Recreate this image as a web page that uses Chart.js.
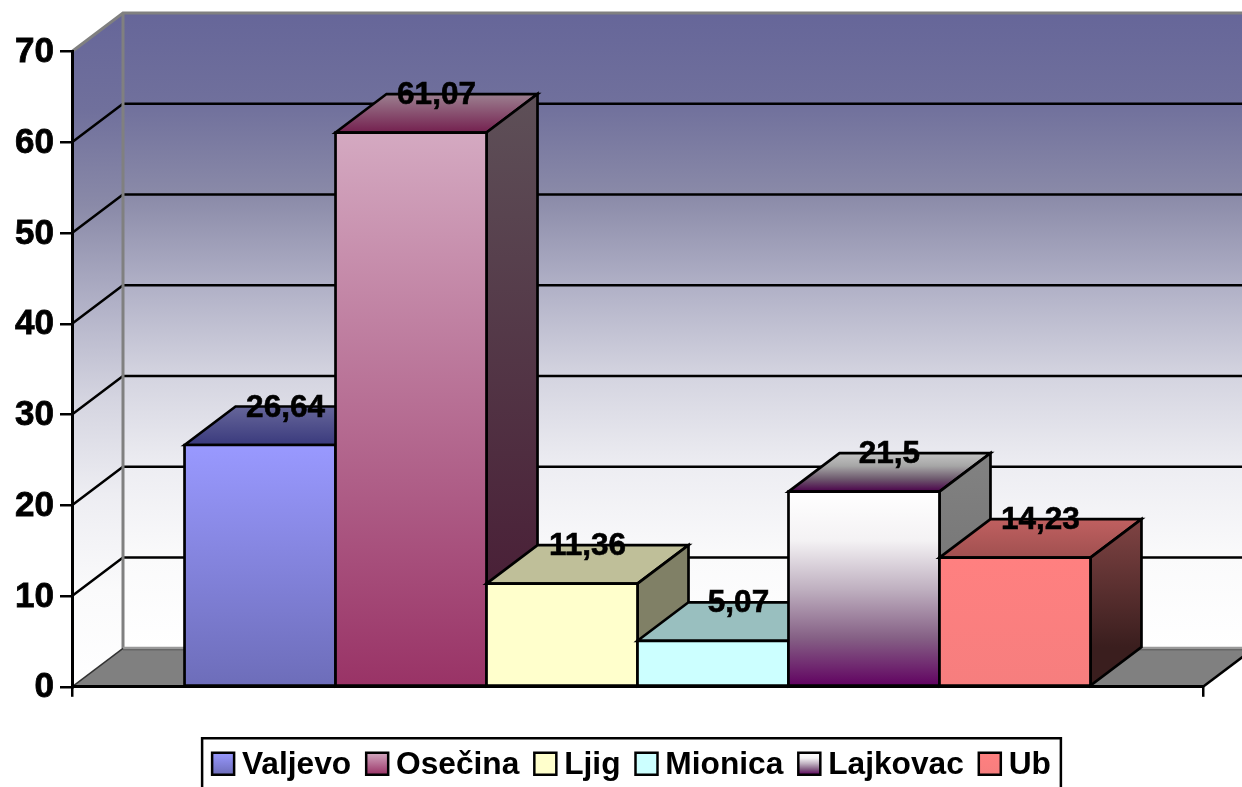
<!DOCTYPE html>
<html>
<head>
<meta charset="utf-8">
<style>html,body{margin:0;padding:0;background:#fff;overflow:hidden}canvas{display:block}</style>
<script src="https://cdn.jsdelivr.net/npm/chart.js@4"></script>
</head>
<body>
<canvas id="c" width="1242" height="787"></canvas>
<script>
const seriesNames = ['Valjevo', 'Osečina', 'Ljig', 'Mionica', 'Lajkovac', 'Ub'];
const seriesValues = [26.64, 61.07, 11.36, 5.07, 21.5, 14.23];
const categories = [''];
const yTicks = [0, 10, 20, 30, 40, 50, 60, 70];

const frontColors = [['#9999ff', '#6d6db9'], ['#d4a9c1', '#993366'], ['#ffffcc', '#ffffcc'], ['#ccffff', '#ccffff'], ['#ffffff', '#f4f2f4', '#bfb0c0', '#856085', '#600060'], ['#ff8080', '#f67e7e']];
const topColors = [['#66669a', '#3a3a7d'], ['#9c8090', '#74204f'], ['#bfbf99', '#bfbf99'], ['#99bfbf', '#99bfbf'], ['#c4c4c4', '#a6a6a6', '#6e5a6e', '#4a004a'], ['#c06060', '#a05050']];
const sideColors = [['#4c4c80', '#36365c'], ['#5e5058', '#471a33'], ['#808066', '#808066'], ['#668080', '#668080'], ['#828282', '#707070'], ['#804444', '#3a1e1e']];
const wallColors = ['#666699', '#70709c', '#8a8aa8', '#b0b0c6', '#d4d4e0', '#ededf2', '#fafafb', '#ffffff'];

const DX = 51, DY = 38.5;
const FONT = 'Liberation Sans';
const LW = 2.7;

function poly(ctx, pts, fill, stroke, lw) {
  ctx.beginPath();
  pts.forEach((p, i) => i ? ctx.lineTo(p[0], p[1]) : ctx.moveTo(p[0], p[1]));
  ctx.closePath();
  if (fill) { ctx.fillStyle = fill; ctx.fill(); }
  if (stroke) { ctx.strokeStyle = stroke; ctx.lineWidth = lw; ctx.lineJoin = 'miter'; ctx.stroke(); }
}
function vGrad(ctx, y0, y1, colors) {
  const g = ctx.createLinearGradient(0, y0, 0, y1);
  colors.forEach((c, i) => g.addColorStop(i / (colors.length - 1), c));
  return g;
}

const scene3d = {
  id: 'scene3d',
  afterLayout(chart) {
    const lg = chart.legend;
    lg.left += 30; lg.right += 30;
  },
  beforeDraw(chart) {
    const ctx = chart.ctx, a = chart.chartArea, y = chart.scales.y;
    const L = a.left, R = a.right, T = a.top, B = a.bottom;
    ctx.save();
    // back wall and side wall
    poly(ctx, [[L + DX, T - DY], [R + DX, T - DY], [R + DX, B - DY], [L + DX, B - DY]], vGrad(ctx, T - DY, B - DY, wallColors));
    poly(ctx, [[L, T], [L + DX, T - DY], [L + DX, B - DY], [L, B]], vGrad(ctx, T - DY, B, wallColors));
    // floor
    poly(ctx, [[L, B], [L + DX, B - DY], [R + DX, B - DY], [R, B]], '#808080');
    // grid lines
    ctx.lineWidth = 2.5; ctx.strokeStyle = '#000';
    yTicks.forEach(v => {
      if (v === 0 || v === 70) return;
      const p = y.getPixelForValue(v);
      ctx.beginPath(); ctx.moveTo(L, p); ctx.lineTo(L + DX, p - DY); ctx.lineTo(R + DX, p - DY); ctx.stroke();
    });
    // wall edges
    ctx.strokeStyle = '#808080'; ctx.lineWidth = 3;
    ctx.beginPath(); ctx.moveTo(L, T); ctx.lineTo(L + DX, T - DY); ctx.lineTo(R + DX, T - DY); ctx.stroke();
    ctx.beginPath(); ctx.moveTo(L + DX, T - DY); ctx.lineTo(L + DX, B - DY); ctx.stroke();
    ctx.strokeStyle = '#999'; ctx.beginPath(); ctx.moveTo(L + DX, B - DY); ctx.lineTo(R + DX, B - DY); ctx.stroke();
    ctx.strokeStyle = '#555'; ctx.lineWidth = 1; ctx.beginPath(); ctx.moveTo(L + DX, B - DY + 1.5); ctx.lineTo(R + DX, B - DY + 1.5); ctx.stroke();
    ctx.strokeStyle = '#333'; ctx.lineWidth = 1.5; ctx.beginPath(); ctx.moveTo(L, B); ctx.lineTo(L + DX, B - DY); ctx.stroke();
    ctx.strokeStyle = '#000'; ctx.lineWidth = 2.5; ctx.beginPath(); ctx.moveTo(R, B); ctx.lineTo(R + DX, B - DY); ctx.stroke();
    // legend frame
    const hb = chart.legend.legendHitBoxes, first = hb[0], last = hb[hb.length - 1];
    const fx0 = first.left - 10, fx1 = last.left + last.width + 10, fy = first.top - 11.5;
    ctx.strokeStyle = '#000'; ctx.lineWidth = 2.5; ctx.fillStyle = '#fff';
    ctx.beginPath(); ctx.rect(fx0, fy, fx1 - fx0, 100); ctx.fill(); ctx.stroke();
    ctx.restore();
  },
  beforeDatasetsDraw(chart) {
    const ctx = chart.ctx;
    ctx.save();
    seriesValues.forEach((v, i) => {
      const el = chart.getDatasetMeta(i).data[0];
      const l = el.x - el.width / 2, r = el.x + el.width / 2, t = el.y, b = el.base;
      poly(ctx, [[l, t], [l + DX, t - DY], [r + DX, t - DY], [r, t]], vGrad(ctx, t - DY, t, topColors[i]), '#000', LW);
      poly(ctx, [[r, t], [r + DX, t - DY], [r + DX, b - DY], [r, b]], vGrad(ctx, t - DY, b - DY, sideColors[i]), '#000', LW);
      el.draw(ctx, chart.chartArea);
      poly(ctx, [[l, t], [r, t], [r, b], [l, b]], null, '#000', LW);
    });
    ctx.restore();
    return false;
  },
  afterDraw(chart) {
    const ctx = chart.ctx;
    ctx.save();
    // value labels
    ctx.font = 'bold 31.5px "' + FONT + '"';
    ctx.fillStyle = '#000'; ctx.strokeStyle = '#000'; ctx.lineWidth = 0.6;
    ctx.textAlign = 'center'; ctx.textBaseline = 'middle';
    seriesValues.forEach((v, i) => {
      const el = chart.getDatasetMeta(i).data[0];
      const s = String(v).replace('.', ',');
      ctx.strokeText(s, el.x + DX / 2, el.y - DY + 1.5);
      ctx.fillText(s, el.x + DX / 2, el.y - DY + 1.5);
    });
    // legend swatches
    chart.legend.legendHitBoxes.forEach((h, i) => {
      const y0 = h.top + h.height / 2 - 13;
      poly(ctx, [[h.left, y0], [h.left + 22, y0], [h.left + 22, y0 + 22], [h.left, y0 + 22]],
        vGrad(ctx, y0, y0 + 22, frontColors[i]), '#000', 2.5);
    });
    ctx.restore();
  }
};

new Chart(document.getElementById('c'), {
  type: 'bar',
  data: {
    labels: categories,
    datasets: seriesNames.map((name, i) => ({
      label: name,
      data: [seriesValues[i]],
      borderWidth: 0,
      backgroundColor: c => {
        const ch = c.chart;
        if (!ch.chartArea) return frontColors[i][0];
        const s = ch.scales.y;
        return vGrad(ch.ctx, s.getPixelForValue(seriesValues[i]), s.getPixelForValue(0), frontColors[i]);
      }
    }))
  },
  options: {
    responsive: false,
    animation: false,
    devicePixelRatio: 1,
    layout: { padding: { top: 51.5, right: 39, bottom: -4.5, left: 0 } },
    datasets: { bar: { categoryPercentage: 0.801, barPercentage: 1 } },
    plugins: {
      tooltip: { enabled: false },
      title: { display: false },
      legend: {
        position: 'bottom',
        labels: {
          boxWidth: 14,
          boxHeight: 22,
          padding: 15,
          color: '#000',
          font: { family: FONT, size: 31.7, weight: 'bold' },
          generateLabels: chart => chart.data.datasets.map((d, i) => ({
            text: d.label, fillStyle: 'transparent', strokeStyle: 'transparent', lineWidth: 0, datasetIndex: i
          }))
        }
      }
    },
    scales: {
      x: {
        afterFit: s => { s.height = 48; },
        ticks: { display: false },
        grid: { drawOnChartArea: false, color: '#000', lineWidth: 2.5, tickLength: 10, tickColor: '#000' },
        border: { color: '#000', width: 3 }
      },
      y: {
        min: 0, max: 70,
        afterFit: s => { s.width = 72; },
        afterBuildTicks: s => { s.ticks = yTicks.map(v => ({ value: v })); },
        ticks: { color: '#000', padding: 6, labelOffset: 1, textStrokeColor: '#000', textStrokeWidth: 0.8, font: { family: FONT, size: 35, weight: 'bold' } },
        grid: { drawOnChartArea: false, color: '#000', lineWidth: 2.5, tickLength: 12, tickColor: '#000' },
        border: { color: '#000', width: 3 }
      }
    }
  },
  plugins: [scene3d]
});
</script>
</body>
</html>
